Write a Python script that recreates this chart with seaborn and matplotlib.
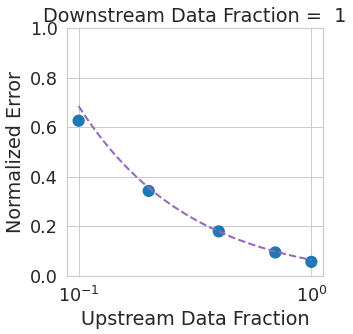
import matplotlib
matplotlib.use("Agg")
import matplotlib.pyplot as plt
import seaborn as sns
import numpy as np
import pandas as pd

# measured points
upstream_frac = [0.1, 0.2, 0.4, 0.7, 1.0]
norm_error = [0.626, 0.343, 0.180, 0.095, 0.057]

# fitted law  err = fit_a * x**fit_b + fit_c  (parameters)
fit_a = 0.0893
fit_b = -0.9
fit_c = -0.0243

downstream_frac = 1

sns.set_theme(style="whitegrid", font_scale=1.6)

fig = plt.figure(figsize=(353 / 72, 334 / 72), dpi=72)
ax = fig.add_axes([67 / 353, 58 / 334, 256 / 353, 248 / 334])

df = pd.DataFrame({"x": upstream_frac, "y": norm_error})
sns.scatterplot(data=df, x="x", y="y", s=150, color="#1f77b4", edgecolor="none", ax=ax, zorder=3)

xs = np.geomspace(min(upstream_frac), max(upstream_frac), 200)
fit_df = pd.DataFrame({"x": xs, "y": fit_a * xs ** fit_b + fit_c})
sns.lineplot(data=fit_df, x="x", y="y", color="#9467bd", linestyle="--", linewidth=2, ax=ax, zorder=4)

ax.set_xscale("log")
ax.set_ylim(0, 1.0)
ax.set_yticks([0.0, 0.2, 0.4, 0.6, 0.8, 1.0])
ax.set_xlabel("Upstream Data Fraction")
ax.set_ylabel("Normalized Error")
ax.set_title("Downstream Data Fraction =  " + str(downstream_frac))

fig.savefig("out.png", dpi=72)
